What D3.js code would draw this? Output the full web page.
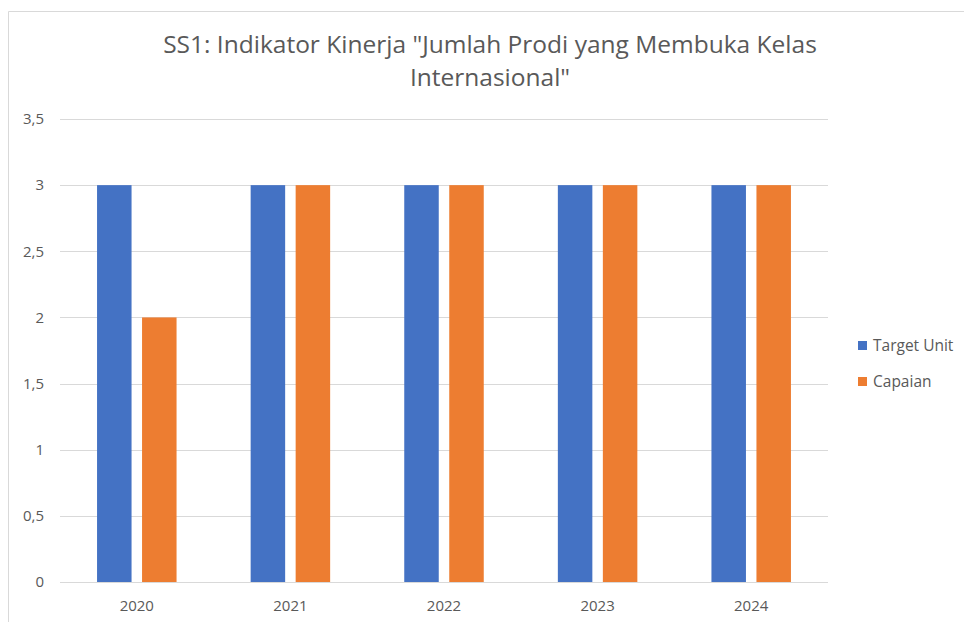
<!DOCTYPE html>
<html>
<head>
<meta charset="utf-8">
<script src="https://cdn.jsdelivr.net/npm/d3@7"></script>
<style>
  body { margin: 0; background: #fff; }
  text { font-family: "Open Sans", "Liberation Sans", sans-serif; fill: #595959; }
</style>
</head>
<body>
<div id="chart"></div>
<script>
// data
var years = ["2020", "2021", "2022", "2023", "2024"];
var seriesNames = ["Target Unit", "Capaian"];
var targetUnit = [3, 3, 3, 3, 3];
var capaian = [2, 3, 3, 3, 3];
var yTicks = [0, 0.5, 1, 1.5, 2, 2.5, 3, 3.5];
var titleLines = ['SS1: Indikator Kinerja "Jumlah Prodi yang Membuka Kelas', 'Internasional"'];
var colors = ["#4472C4", "#ED7D31"];

var width = 964, height = 622;
var svg = d3.select("#chart").append("svg")
  .attr("width", width)
  .attr("height", height);

// chart border (partial frame like the screenshot)
svg.append("path")
  .attr("d", "M8.5,622 V11.5 H964")
  .attr("fill", "none")
  .attr("stroke", "#d9d9d9");

var plotLeft = 60, plotRight = 828, plotTop = 119, plotBottom = 582;

var x = d3.scaleBand().domain(years).range([plotLeft, plotRight]);
var y = d3.scaleLinear().domain([0, 3.5]).range([plotBottom, plotTop]);
var barW = 34.5, innerGap = 10.5;
var x1 = d3.scaleBand().domain(seriesNames)
  .range([0, barW * 2 + innerGap]).paddingInner(innerGap / (barW + innerGap));

// gridlines
svg.append("g").selectAll("line")
  .data(yTicks)
  .enter().append("line")
  .attr("x1", plotLeft).attr("x2", plotRight)
  .attr("y1", function(d) { return Math.round(y(d)) + 0.5; })
  .attr("y2", function(d) { return Math.round(y(d)) + 0.5; })
  .attr("stroke", "#d9d9d9")
  .attr("stroke-width", 1);

// y labels
var fmt = function(d) { return String(d).replace(".", ","); };
svg.append("g").selectAll("text")
  .data(yTicks)
  .enter().append("text")
  .attr("x", 44)
  .attr("y", function(d) { return y(d); })
  .attr("dy", "0.35em")
  .attr("text-anchor", "end")
  .style("font-size", "15px")
  .text(fmt);

// x labels
svg.append("g").selectAll("text")
  .data(years)
  .enter().append("text")
  .attr("x", function(d) { return x(d) + x.bandwidth() / 2; })
  .attr("y", 611)
  .attr("text-anchor", "middle")
  .style("font-size", "15px")
  .text(function(d) { return d; });

// bars
var rows = years.map(function(yr, i) {
  return { year: yr, values: [targetUnit[i], capaian[i]] };
});
var groups = svg.append("g").selectAll("g")
  .data(rows)
  .enter().append("g")
  .attr("transform", function(d) {
    return "translate(" + (x(d.year) + x.bandwidth() / 2 - x1.range()[1] / 2) + ",0)";
  });
groups.selectAll("rect")
  .data(function(d) { return d.values.map(function(v, j) { return { key: seriesNames[j], v: v, c: colors[j] }; }); })
  .enter().append("rect")
  .attr("x", function(d) { return x1(d.key); })
  .attr("width", x1.bandwidth())
  .attr("y", function(d) { return y(d.v); })
  .attr("height", function(d) { return y(0) - y(d.v); })
  .attr("fill", function(d) { return d.c; });

// title
svg.append("g").selectAll("text")
  .data(titleLines)
  .enter().append("text")
  .attr("x", 490)
  .attr("y", function(d, i) { return 53 + i * 33; })
  .attr("text-anchor", "middle")
  .style("font-size", "24.5px")
  .text(function(d) { return d; });

// legend
var legend = svg.append("g").selectAll("g")
  .data(seriesNames)
  .enter().append("g")
  .attr("transform", function(d, i) { return "translate(858," + (341 + i * 36) + ")"; });
legend.append("rect")
  .attr("width", 9).attr("height", 9)
  .attr("fill", function(d, i) { return colors[i]; });
legend.append("text")
  .attr("x", 15).attr("y", 4.5).attr("dy", "0.35em")
  .style("font-size", "15.5px")
  .text(function(d) { return d; });
</script>
</body>
</html>
